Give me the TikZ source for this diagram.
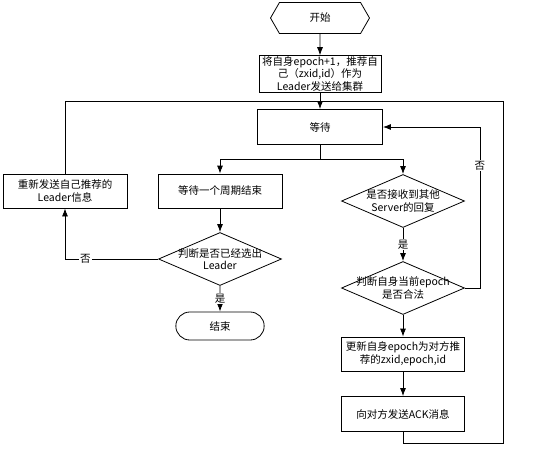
\documentclass[tikz,border=0pt]{standalone}
\usepackage{fontspec}
\newfontfamily\cjk{Noto Sans CJK SC}
\usetikzlibrary{positioning,arrows.meta,shapes.geometric,shapes.misc,shapes.symbols}

\tikzset{
  box/.style={rectangle, draw, minimum width=124pt, minimum height=34pt, inner sep=1pt, align=center},
  dec/.style={diamond, draw, minimum width=123pt, minimum height=53pt, inner sep=0pt, align=center},
  term/.style={rounded rectangle, draw, minimum width=95pt, minimum height=28pt},
  hexa/.style={signal, signal to=west and east, signal pointer angle=120, draw, minimum width=99pt, minimum height=31pt},
  tag/.style={fill=white, inner sep=1pt},
}
\newcommand{\wideline}[1]{\makebox[0pt]{#1}}

\begin{document}
\begin{tikzpicture}[>={Latex[length=8pt,width=6pt]}, line width=0.8pt, on grid,
    font=\cjk\fontsize{10.5}{12.5}\selectfont]
  \useasboundingbox (0,0) rectangle (533pt,-451pt);
  \node[hexa] (start) at (320pt,-18pt) {开始};
  \node[box, minimum width=122pt] (announce) [below=56pt of start] {将自身epoch+1，推荐自\\己（zxid,id）作为\\Leader发送给集群};
  \node[box, minimum width=125pt, minimum height=35pt] (wait) [below=53pt of announce] {等待};
  \node[box] (period) [below left=64pt and 100pt of wait] {等待一个周期结束};
  \node[box] (resend) [left=155pt of period] {重新发送自己推荐的\\Leader信息};
  \node[dec] (elected) [below=68pt of period] {\wideline{判断是否已经选出}\\\wideline{Leader}};
  \node[term] (stop) [below=67pt of elected] {结束};
  \node[dec] (reply) [below right=74pt and 83pt of wait] {\wideline{是否接收到其他}\\\wideline{Server的回复}};
  \node[dec] (valid) [below=87pt of reply] {\wideline{判断自身当前epoch}\\\wideline{是否合法}};
  \node[box, minimum width=123pt] (update) [below=66pt of valid] {更新自身epoch为对方推\\荐的zxid,epoch,id};
  \node[box, minimum width=123pt, minimum height=35pt] (ack) [below=60pt of update] {向对方发送ACK消息};

  \coordinate (top) at ([yshift=-9pt]announce.south);
  \coordinate (split) at ([yshift=-14pt]wait.south);

  \draw[->] (start) -- (announce);
  \draw[->] (announce) -- (wait);
  \draw[->] (wait) -- (split) -| (period);
  \draw[->] (split) -| (reply);
  \draw[->] (period) -- (elected);
  \draw[->] (elected) -- node[tag] {是} (stop);
  \draw[->] (elected) -| node[tag, pos=0.39] {否} (resend);
  \draw (resend) |- (top);
  \draw[->] (reply) -- node[tag] {是} (valid);
  \draw[->] (valid) -- (update);
  \draw[->] (update) -- (ack);
  \draw[->] (valid.east) -- ++(15pt,0) |- node[tag, pos=0.38] {否} (wait);
  \draw (ack.south) |- ++(100pt,-11pt) |- (top);
\end{tikzpicture}
\end{document}
